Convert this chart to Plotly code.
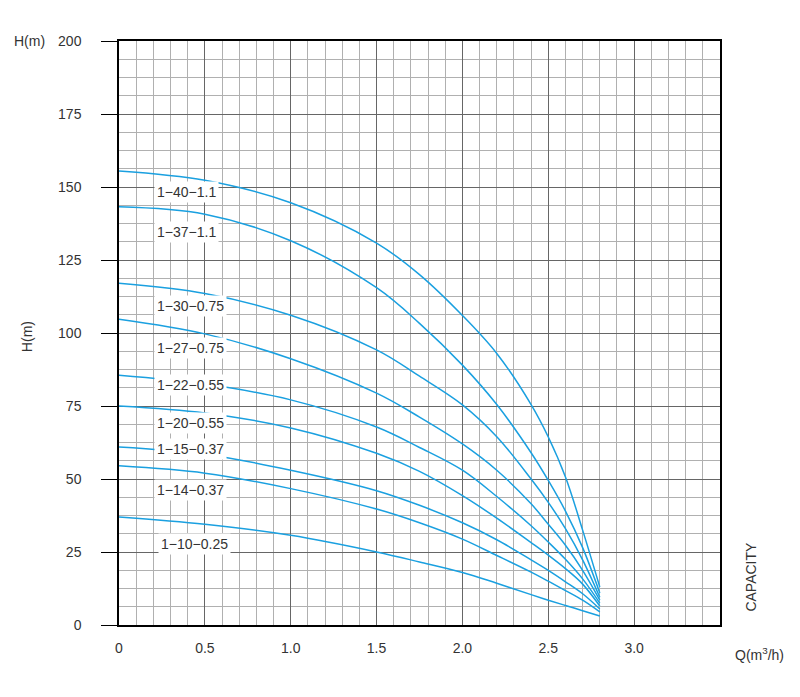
import plotly.graph_objects as go

q_points = [0, 0.5, 1.0, 1.5, 1.75, 2.0, 2.2, 2.4, 2.5, 2.6, 2.7, 2.8]

models = ["1−40−1.1", "1−37−1.1", "1−30−0.75", "1−27−0.75", "1−22−0.55",
          "1−20−0.55", "1−15−0.37", "1−14−0.37", "1−10−0.25"]

# head H (m) for each model at q_points
h_40 = [155.5, 152.3, 144.6, 130.8, 120, 106, 93, 75.5, 64.4, 50.7, 32.5, 13]
h_37 = [143.2, 140.7, 131.6, 115.5, 103.3, 89, 75.5, 59, 49.5, 39, 26.5, 11]
h_30 = [117, 113.5, 106.1, 94.2, 85.2, 75.4, 64.5, 50, 42, 33, 22.3, 9.5]
h_27 = [104.7, 99.7, 91.2, 79.4, 71.2, 62, 53, 41.5, 34.5, 27.3, 18.7, 8.5]
h_22 = [85.5, 82.5, 77.1, 67.8, 60.8, 53, 44, 34, 28.4, 22.5, 15.8, 7.5]
h_20 = [75, 72.6, 67.5, 58.8, 52.6, 44.3, 36.6, 28.2, 23.9, 19.3, 14, 6.5]
h_15 = [61, 58.5, 53, 46, 41, 35, 29.2, 22.3, 18.7, 14.8, 10.7, 5.5]
h_14 = [54.5, 52, 46.7, 39.7, 35, 29.4, 23.8, 18.1, 15, 11.8, 8.5, 4.5]
h_10 = [37, 34.5, 30.7, 25, 21.6, 18, 14.3, 10.4, 8.5, 6.7, 4.9, 3.1]
heads = [h_40, h_37, h_30, h_27, h_22, h_20, h_15, h_14, h_10]

# label anchor (left edge x, centre y) in data units
label_x = [0.205, 0.205, 0.205, 0.205, 0.205, 0.205, 0.205, 0.205, 0.225]
label_y = [148.3, 134.6, 109.2, 94.9, 82.1, 69.2, 60.4, 46.4, 27.9]

x_tickvals = [0, 0.5, 1.0, 1.5, 2.0, 2.5, 3.0]
x_ticktext = ["0", "0.5", "1.0", "1.5", "2.0", "2.5", "3.0"]

curve_color = "#1aa0e0"
text_color = "#333333"
font_family = "Liberation Sans, Arial, sans-serif"

fig = go.Figure()

for name, h in zip(models, heads):
    fig.add_trace(go.Scatter(x=q_points, y=h, mode="lines", name=name,
                             line=dict(color=curve_color, width=1.5, shape="spline", smoothing=1.0),
                             hoverinfo="x+y+name"))

for name, lx, ly in zip(models, label_x, label_y):
    fig.add_annotation(x=lx, y=ly, xref="x", yref="y", text=name, showarrow=False,
                       xanchor="left", yanchor="middle", bgcolor="white", borderpad=2,
                       font=dict(size=14, color=text_color, family=font_family))

# axis titles placed like the original sheet
fig.add_annotation(x=-0.149, y=1.0, xref="paper", yref="paper", text="H(m)", showarrow=False,
                   xanchor="center", yanchor="middle",
                   font=dict(size=14, color=text_color, family=font_family))
fig.add_annotation(x=-0.153, y=0.493, xref="paper", yref="paper", text="H(m)", showarrow=False,
                   textangle=-90, xanchor="center", yanchor="middle",
                   font=dict(size=14, color=text_color, family=font_family))
fig.add_annotation(x=1.05, y=0.083, xref="paper", yref="paper", text="CAPACITY", showarrow=False,
                   textangle=-90, xanchor="center", yanchor="middle",
                   font=dict(size=14, color=text_color, family=font_family))
fig.add_annotation(x=1.065, y=-0.049, xref="paper", yref="paper", text="Q(m<sup>3</sup>/h)",
                   showarrow=False, xanchor="center", yanchor="middle",
                   font=dict(size=14, color=text_color, family=font_family))

fig.update_xaxes(range=[0, 3.5], tickvals=x_tickvals, ticktext=x_ticktext,
                 showgrid=True, gridcolor="#666666", gridwidth=1.2,
                 minor=dict(dtick=0.1, showgrid=True, gridcolor="#b0b0b0", gridwidth=1.2),
                 showline=True, linecolor="black", linewidth=1.5, mirror=True,
                 ticks="", ticklabelstandoff=9, zeroline=False,
                 tickfont=dict(size=14, color=text_color, family=font_family))
fig.update_yaxes(range=[0, 200], dtick=25,
                 showgrid=True, gridcolor="#666666", gridwidth=1.2,
                 minor=dict(dtick=6.25, showgrid=True, gridcolor="#b0b0b0", gridwidth=1.2),
                 showline=True, linecolor="black", linewidth=1.5, mirror=True,
                 ticks="outside", ticklen=16, tickcolor="black", tickwidth=1,
                 ticklabelstandoff=17, zeroline=False,
                 tickfont=dict(size=14, color=text_color, family=font_family))

fig.update_layout(width=800, height=697, showlegend=False,
                  plot_bgcolor="white", paper_bgcolor="white",
                  margin=dict(l=119, r=80, t=41, b=72))

# page body has a default margin, drop it so the figure sits at 0,0
fig.write_html("out.html", config={"displayModeBar": False},
               post_script="document.body.style.margin='0';")
